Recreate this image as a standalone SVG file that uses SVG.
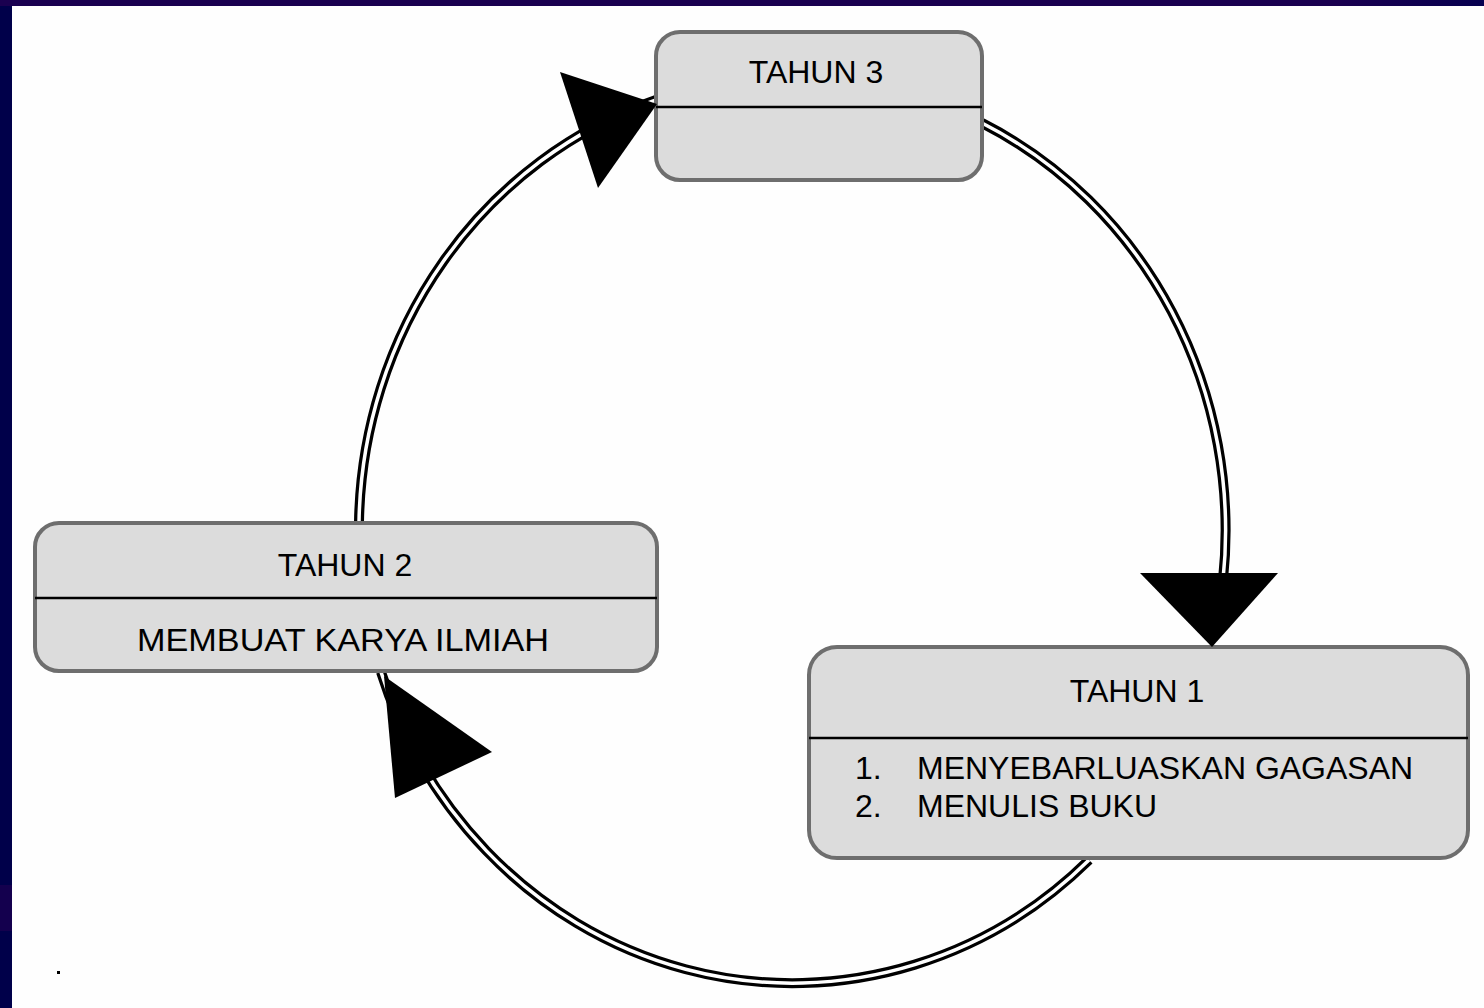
<svg xmlns="http://www.w3.org/2000/svg" width="1484" height="1008" viewBox="0 0 1484 1008">
<defs>
<style>
.box{fill:#dcdcdc;stroke:#6e6e6e;stroke-width:4}
.div{stroke:#000;stroke-width:2.5}
.t{font-family:"Liberation Sans",Arial,sans-serif;font-size:32px;fill:#000}
.c{text-anchor:middle}
.outer{fill:none;stroke:#000;stroke-width:10}
.inner{fill:none;stroke:#fff;stroke-width:3.5}
.arrow{fill:#000}
</style>
<linearGradient id="bg" x1="0" y1="0" x2="1" y2="0">
<stop offset="0" stop-color="#1a0050"/>
<stop offset="0.9" stop-color="#1a0050"/>
<stop offset="1" stop-color="#060050"/>
</linearGradient>
</defs>
<rect x="0" y="0" width="1484" height="1008" fill="url(#bg)"/>
<rect x="0" y="6" width="12" height="1002" fill="#00004a"/>
<rect x="0" y="885" width="12" height="46" fill="#14004e"/>
<rect x="12" y="6" width="1472" height="1002" fill="#fefefe"/>
<rect x="57" y="971" width="3" height="3" fill="#000"/>
<g id="connectors">
<path class="outer" d="M 982 123 A 433 453 0 0 1 1223 580"/>
<path class="inner" d="M 982 123 A 433 453 0 0 1 1223 580"/>
<path class="outer" d="M 1089 860 A 433 453 0 0 1 381 672"/>
<path class="inner" d="M 1089 860 A 433 453 0 0 1 381 672"/>
<path class="outer" d="M 359 522 A 433 453 0 0 1 656 100"/>
<path class="inner" d="M 359 522 A 433 453 0 0 1 656 100"/>
</g>
<g id="tahun3">
<rect class="box" x="656" y="32" width="326" height="148" rx="24"/>
<line class="div" x1="656" y1="107" x2="982" y2="107"/>
<text class="t c" x="816" y="83">TAHUN 3</text>
</g>
<g id="tahun2">
<rect class="box" x="35" y="523" width="622" height="148" rx="24"/>
<line class="div" x1="35" y1="598" x2="657" y2="598"/>
<text class="t c" x="345" y="576">TAHUN 2</text>
<text class="t c" x="343" y="651" textLength="412" lengthAdjust="spacingAndGlyphs">MEMBUAT KARYA ILMIAH</text>
</g>
<g id="tahun1">
<rect class="box" x="809" y="647" width="659" height="211" rx="28"/>
<line class="div" x1="809" y1="738" x2="1468" y2="738"/>
<text class="t c" x="1137" y="702">TAHUN 1</text>
<text class="t" x="855" y="779">1.</text>
<text class="t" x="917" y="779">MENYEBARLUASKAN GAGASAN</text>
<text class="t" x="855" y="817">2.</text>
<text class="t" x="917" y="817">MENULIS BUKU</text>
</g>
<g id="arrowheads">
<polygon class="arrow" points="1140,573 1278,573 1212,647"/>
<polygon class="arrow" points="384,676 492,752 395,798"/>
<polygon class="arrow" points="560,72 657,104 598,188"/>
</g>
</svg>
